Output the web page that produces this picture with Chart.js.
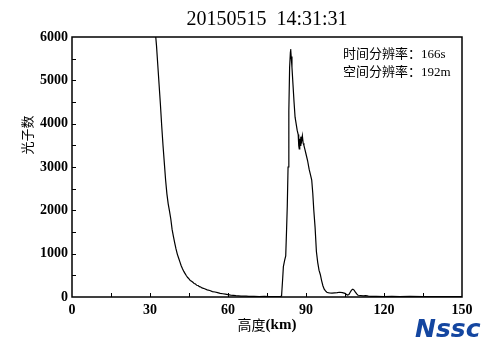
<!DOCTYPE html>
<html>
<head>
<meta charset="utf-8">
<script src="https://cdn.jsdelivr.net/npm/chart.js@4/dist/chart.umd.min.js"></script>
<style>
html,body{margin:0;padding:0;background:#fff;}
#wrap{width:500px;height:342px;position:relative;}
</style>
</head>
<body>
<div id="wrap"><canvas id="c" width="500" height="342"></canvas></div>
<script>
const titleText = "20150515  14:31:31";
const xTitle = "高度";
const xTitleUnit = "(km)";
const yTitle = "光子数";
const noteLines = ["时间分辨率：166s", "空间分辨率：192m"];
const xTicks = [0, 30, 60, 90, 120, 150];
const yTicks = [0, 1000, 2000, 3000, 4000, 5000, 6000];

const altitude = [
  31.0,31.5,32.0,32.5,33.0,33.5,34.0,34.5,35.0,35.5,36.0,36.5,37.0,37.5,38.0,38.5,39.0,39.5,40.0,40.5,
  41.0,41.5,42.0,42.5,43.0,43.5,44.0,44.5,45.0,45.5,46.0,46.5,47.0,47.5,48.0,48.5,49.0,49.5,50.0,51,
  52,53,54,55,56,57,58,59,60,61,62,63,64,65,66,67,68,70,72,74,76,78,80,
  80.6,81.0,81.3,81.8,82.2,82.5,82.8,83.1,83.4,83.7,84.0,84.1,84.3,84.6,85.0,85.4,85.8,86.2,86.6,87.0,
  87.2,87.4,87.6,87.8,88.0,88.3,88.6,88.9,89.2,89.6,90.0,90.6,91.2,91.8,92.2,92.6,93.0,93.5,94.0,94.5,
  95.0,95.5,96.0,96.5,97.0,97.5,98.0,98.5,99,100,101,102,103,104,105,105.5,106,106.5,107,107.5,
  108,108.5,109,109.5,110,111,112,113,114,115,117,120,123,126,130,135,140,145,150
];
const photons = [
  7100,6650,6150,5800,5350,4900,4450,3950,3500,3100,2700,2380,2150,1980,1800,1560,1400,1250,1110,990,
  900,810,720,650,590,540,490,450,420,380,365,340,310,300,270,265,240,230,210,190,
  165,150,125,115,100,85,75,65,55,45,38,30,28,22,20,18,15,14,12,13,11,12,12,
  20,400,700,850,950,1500,2100,3000,4300,5300,5650,5720,5550,5300,4900,4500,4150,4000,3850,3750,
  3500,3420,3650,3500,3700,3600,3720,3550,3500,3400,3300,3150,2950,2800,2700,2400,2000,1600,1050,800,
  620,520,380,260,180,140,110,100,95,90,95,100,110,100,85,60,45,55,110,160,
  180,160,110,70,40,35,25,30,20,15,14,12,15,11,13,10,12,11,10
];

const points = altitude.map((a, i) => ({x: a, y: photons[i]}));

const serif = "'Liberation Serif', 'Times New Roman', serif";
const cjk = "'Liberation Serif', 'Noto Sans CJK SC', serif";

const decor = {
  id: 'decor',
  afterDraw(chart) {
    const ctx = chart.ctx;
    const a = chart.chartArea;
    const xs = chart.scales.x, ys = chart.scales.y;
    ctx.save();
    ctx.strokeStyle = '#000';
    ctx.lineWidth = 1.5;
    ctx.strokeRect(a.left, a.top, a.right - a.left, a.bottom - a.top);
    ctx.lineWidth = 1;
    ctx.beginPath();
    for (let v = 15; v < 150; v += 15) {
      const px = Math.round(xs.getPixelForValue(v)) + 0.5;
      ctx.moveTo(px, a.bottom); ctx.lineTo(px, a.bottom - 4);
    }
    for (let v = 500; v < 6000; v += 500) {
      const py = Math.round(ys.getPixelForValue(v)) + 0.5;
      ctx.moveTo(a.left, py); ctx.lineTo(a.left + 4, py);
    }
    ctx.stroke();
    ctx.fillStyle = '#000';
    ctx.font = "20px " + serif;
    ctx.textAlign = 'center';
    ctx.textBaseline = 'middle';
    ctx.fillText(titleText, (a.left + a.right) / 2, 20);
    ctx.font = "13px " + cjk;
    ctx.textAlign = 'left';
    ctx.fillText(noteLines[0], 343, 55);
    ctx.fillText(noteLines[1], 343, 73);
    ctx.font = "14px 'Noto Sans CJK SC', serif";
    const w1 = ctx.measureText(xTitle).width;
    ctx.font = "bold 15px " + serif;
    const w2 = ctx.measureText(xTitleUnit).width;
    let sx = (a.left + a.right) / 2 - (w1 + w2) / 2;
    ctx.font = "14px 'Noto Sans CJK SC', serif";
    ctx.fillText(xTitle, sx, 325);
    ctx.font = "bold 15px " + serif;
    ctx.fillText(xTitleUnit, sx + w1, 325);
    ctx.save();
    ctx.translate(27, 135);
    ctx.rotate(-Math.PI / 2);
    ctx.textAlign = 'center';
    ctx.font = "13px 'Noto Sans CJK SC', serif";
    ctx.fillText(yTitle, 0, 0);
    ctx.restore();
    ctx.save();
    ctx.fillStyle = '#1446a0';
    ctx.font = "italic 900 25px 'DejaVu Sans', sans-serif";
    ctx.textAlign = 'left';
    ctx.textBaseline = 'alphabetic';
    ctx.fillText("Nssc", 415, 337, 74);
    ctx.restore();
    ctx.restore();
  }
};

new Chart(document.getElementById('c'), {
  type: 'line',
  data: {
    datasets: [{
      data: points,
      borderColor: '#000',
      borderWidth: 1.2,
      pointRadius: 0,
      tension: 0,
      fill: false
    }]
  },
  options: {
    responsive: false,
    animation: false,
    events: [],
    layout: {padding: {top: 37, right: 38, left: 0, bottom: 0}},
    plugins: {legend: {display: false}, tooltip: {enabled: false}, title: {display: false}},
    scales: {
      x: {
        type: 'linear', min: 0, max: 150,
        afterFit(s) { s.height = 45; },
        afterBuildTicks(s) { s.ticks = xTicks.map(v => ({value: v})); },
        grid: {display: false, drawTicks: false},
        border: {display: false},
        ticks: {color: '#000', padding: 5, maxRotation: 0, callback: v => String(v), font: {family: serif, size: 14, weight: 'bold'}}
      },
      y: {
        type: 'linear', min: 0, max: 6000,
        afterFit(s) { s.width = 72; },
        afterBuildTicks(s) { s.ticks = yTicks.map(v => ({value: v})); },
        grid: {display: false, drawTicks: false},
        border: {display: false},
        ticks: {color: '#000', padding: 4, callback: v => String(v), font: {family: serif, size: 14, weight: 'bold'}}
      }
    }
  },
  plugins: [decor]
});
</script>
</body>
</html>
